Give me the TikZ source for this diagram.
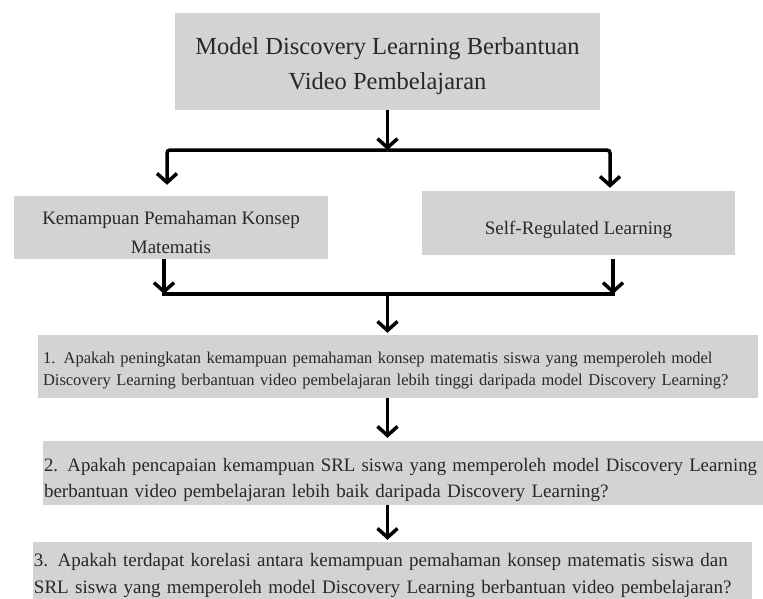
\documentclass[tikz,border=0pt]{standalone}
\usepackage{fontspec}
\setmainfont{Liberation Serif}
\usetikzlibrary{arrows.meta,calc}
\definecolor{boxgray}{RGB}{211,211,211}
\definecolor{textgray}{RGB}{40,40,40}
\newcommand\tallstrut[1]{\rule{0pt}{#1}}
\begin{document}
\begin{tikzpicture}[x=1pt,y=-1pt,
  box/.style={fill=boxgray, draw=none, inner sep=0pt, text=textgray},
  ln/.style={line width=3.5pt, draw=black, line cap=rect},
  arr/.style={line width=3.5pt, draw=black, -{Straight Barb[length=9pt,width=20pt]}}]
\useasboundingbox (0,0) rectangle (763,598);
\clip (0,0) rectangle (763,598);

\node[box, minimum width=425pt, minimum height=97pt, align=center,
  font=\fontsize{24.5}{35}\selectfont] (top) at (387.5,61.5)
  {\tallstrut{27pt}Model Discovery Learning Berbantuan\\Video Pembelajaran};

\node[box, minimum width=314pt, minimum height=63pt, align=center,
  font=\fontsize{19}{29}\selectfont] (left) at (171,227.5)
  {\tallstrut{23pt}Kemampuan Pemahaman Konsep\\Matematis};

\node[box, minimum width=313pt, minimum height=64pt, align=center,
  font=\fontsize{19}{29}\selectfont] (right) at (578.5,223)
  {\tallstrut{28pt}Self-Regulated Learning};

\node[box, minimum width=720pt, minimum height=63pt, inner xsep=5pt,
  text width=710pt, align=left, font=\fontsize{16.5}{22}\selectfont] (b1) at (398,366.5)
  {\tallstrut{20pt}\makebox[697pt][s]{1. Apakah peningkatan kemampuan pemahaman konsep matematis siswa yang memperoleh model}\\
   Discovery Learning berbantuan video pembelajaran lebih tinggi daripada model Discovery Learning?};

\node[box, minimum width=720pt, minimum height=64pt, inner xsep=1pt,
  text width=718pt, align=left, font=\fontsize{19}{26}\selectfont] (b2) at (403,473)
  {\tallstrut{28pt}\resizebox{713pt}{\height}{2. Apakah pencapaian kemampuan SRL siswa yang memperoleh model Discovery Learning}\\
   berbantuan video pembelajaran lebih baik daripada Discovery Learning?};

\node[box, minimum width=719pt, minimum height=66pt, inner xsep=1pt,
  text width=717pt, align=left, font=\fontsize{19}{27}\selectfont] (b3) at (392.5,575)
  {\makebox[704pt][s]{3. Apakah terdapat korelasi antara kemampuan pemahaman konsep matematis siswa dan}\\
   SRL siswa yang memperoleh model Discovery Learning berbantuan video pembelajaran?};

% upper junction
\coordinate (j1) at (387.5,150);
\coordinate (jl) at (167,150);
\coordinate (jr) at (610,150);
\draw[arr] (top.south) -- (j1);
\draw[arr, rounded corners=3pt, shorten >=11pt] (j1) -| (jl |- left.north);
\draw[arr, rounded corners=3pt, shorten >=3pt] (j1) -| (jr |- right.north);

% lower junction
\coordinate (k1) at (387.5,294);
\coordinate (kl) at (164,294);
\coordinate (kr) at (613,294);
\draw[ln] (kl) -- (kr);
\draw[arr] (left.south -| kl) -- (kl);
\draw[arr, shorten <=4pt] (right.south -| kr) -- (kr);
\draw[arr, shorten >=2pt] (k1) -- (k1 |- b1.north);
\draw[arr, shorten >=3pt] (b1.south -| k1) -- (b2.north -| k1);
\draw[arr, shorten >=2pt] (b2.south -| k1) -- (b3.north -| k1);
\end{tikzpicture}
\end{document}
